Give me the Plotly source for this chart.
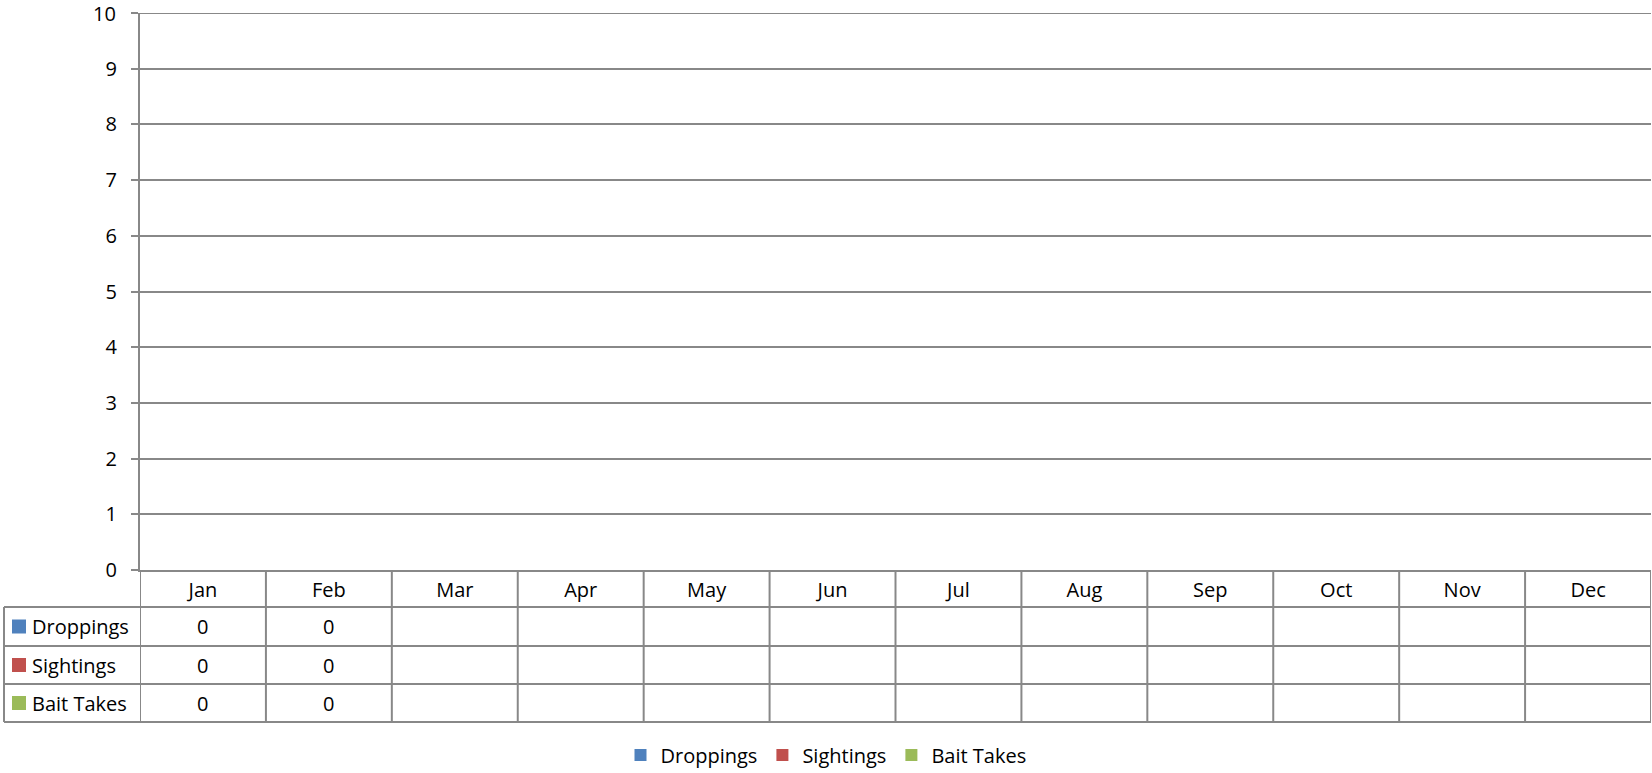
import plotly.graph_objects as go

months = ["Jan", "Feb", "Mar", "Apr", "May", "Jun", "Jul", "Aug", "Sep", "Oct", "Nov", "Dec"]
series_names = ["Droppings", "Sightings", "Bait Takes"]
droppings = [0, 0, None, None, None, None, None, None, None, None, None, None]
sightings = [0, 0, None, None, None, None, None, None, None, None, None, None]
bait_takes = [0, 0, None, None, None, None, None, None, None, None, None, None]
series_values = [droppings, sightings, bait_takes]
series_colors = ["#4F81BD", "#C0504D", "#9BBB59"]
y_ticks = list(range(0, 11))

W, H = 1652, 773
PL, PR, PT, PB = 140, 1651, 13, 570  # plot area in pixels
FONT = "Open Sans"
FS = 20
GRID = "#888888"

plot_h = PB - PT
plot_w = PR - PL


def py2paper(py):
    return (PB - py) / plot_h


def px2paper(px):
    return (px - PL) / plot_w


row_edges = [607, 646, 684, 722]
table_left = 4

fig = go.Figure()
for name, vals, col in zip(series_names, series_values, series_colors):
    fig.add_trace(go.Bar(x=months, y=vals, name=name, marker=dict(color=col, line=dict(width=0))))

shapes = []
# top gridline (value 10) drawn explicitly so it is never clipped at the range edge
shapes.append(dict(type="line", xref="paper", yref="y", x0=px2paper(133), x1=1, y0=y_ticks[-1], y1=y_ticks[-1],
                   line=dict(color=GRID, width=2)))
# vertical lines of the data table (category boundaries)
for i in range(len(months) + 1):
    shapes.append(dict(type="line", xref="x", yref="paper", x0=i - 0.5, x1=i - 0.5,
                       y0=0, y1=py2paper(row_edges[-1]), line=dict(color=GRID, width=2)))
# horizontal lines of the data table
for py in row_edges:
    shapes.append(dict(type="line", xref="paper", yref="paper", x0=px2paper(table_left), x1=1,
                       y0=py2paper(py), y1=py2paper(py), line=dict(color=GRID, width=2)))
# left border of the series-name column
shapes.append(dict(type="line", xref="paper", yref="paper", x0=px2paper(table_left), x1=px2paper(table_left),
                   y0=py2paper(row_edges[0]), y1=py2paper(row_edges[-1]), line=dict(color=GRID, width=2)))

annotations = []
# top tick label (value 10)
annotations.append(dict(xref="paper", yref="y", x=px2paper(117), y=y_ticks[-1], xanchor="right", yanchor="middle",
                        text=str(y_ticks[-1]), showarrow=False, font=dict(family=FONT, size=FS, color="black"),
                        borderpad=0))
for r, (name, vals, col) in enumerate(zip(series_names, series_values, series_colors)):
    top, bot = row_edges[r], row_edges[r + 1]
    yc = py2paper((top + bot) / 2)
    # legend key square
    shapes.append(dict(type="rect", xref="paper", yref="paper",
                       x0=px2paper(12), x1=px2paper(26),
                       y0=yc - 7 / plot_h, y1=yc + 7 / plot_h,
                       fillcolor=col, line=dict(width=0)))
    annotations.append(dict(xref="paper", yref="paper", x=px2paper(30), y=yc, xanchor="left", yanchor="middle",
                            text=name, showarrow=False, font=dict(family=FONT, size=FS, color="black")))
    for m, v in zip(months, vals):
        if v is not None:
            annotations.append(dict(xref="x", yref="paper", x=m, y=yc, xanchor="center", yanchor="middle",
                                    text=str(v), showarrow=False, font=dict(family=FONT, size=FS, color="black")))

fig.update_layout(
    width=W, height=H,
    margin=dict(l=PL, r=W - PR, t=PT, b=H - PB, pad=0),
    paper_bgcolor="white", plot_bgcolor="white",
    font=dict(family=FONT, size=FS, color="black"),
    barmode="group",
    shapes=shapes,
    annotations=annotations,
    legend=dict(orientation="h", xref="container", yref="container", x=0.5, xanchor="center",
                y=1 - 755 / H, yanchor="middle", font=dict(family=FONT, size=FS, color="black"),
                itemclick=False, traceorder="normal"),
    xaxis=dict(type="category", categoryarray=months, range=[-0.5, len(months) - 0.5],
               showgrid=False, showline=True, linecolor=GRID, linewidth=2, ticks="",
               ticklabelstandoff=1, tickfont=dict(family=FONT, size=FS, color="black"), fixedrange=True),
    yaxis=dict(range=[0, 10], tickvals=y_ticks, showgrid=True, gridcolor=GRID, gridwidth=2,
               showline=True, linecolor=GRID, linewidth=2, ticks="outside", ticklen=7, tickcolor=GRID,
               tickwidth=2, zeroline=False, ticklabelstandoff=10,
               tickfont=dict(family=FONT, size=FS, color="black"), fixedrange=True),
)

fig.write_html("out.html", config={"displayModeBar": False},
               post_script="document.body.style.margin='0px';")
